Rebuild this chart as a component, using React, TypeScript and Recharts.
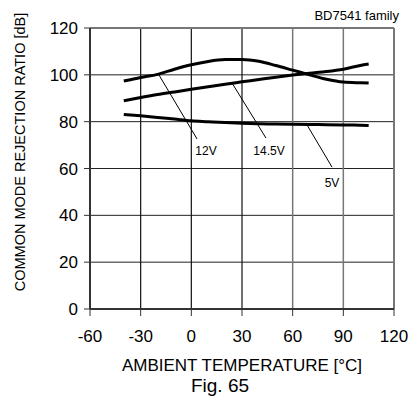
import { LineChart, Line, XAxis, YAxis, CartesianGrid, ReferenceLine, ReferenceDot } from "recharts";

// ambient temperature [°C]
const temps = [-40, -30, -20, -10, 0, 10, 20, 30, 40, 50, 60, 70, 80, 90, 100, 105];
// CMRR [dB] per supply voltage
const cmrr12V = [97.4, 98.9, 100.2, 102.4, 104.3, 105.7, 106.5, 106.6, 105.8, 104.0, 102.0, 100.0, 98.1, 96.9, 96.6, 96.5];
const cmrr14_5V = [88.9, 90.3, 91.6, 92.7, 93.8, 94.9, 96.0, 97.0, 98.0, 99.0, 99.9, 100.7, 101.4, 102.4, 104.0, 104.6];
const cmrr5V = [83.1, 82.5, 81.8, 81.1, 80.4, 80.0, 79.6, 79.3, 79.1, 79.0, 78.9, 78.8, 78.7, 78.6, 78.5, 78.4];

const xTicks = [-60, -30, 0, 30, 60, 90, 120];
const yTicks = [0, 20, 40, 60, 80, 100, 120];

// leader lines: curve point -> label, and label spots
const callouts = [
  { name: "12V", from: { x: -19.7, y: 100.6 }, to: { x: 3.4, y: 72.6 }, at: { x: 8.7, y: 67.5 } },
  { name: "14.5V", from: { x: 24.1, y: 96.5 }, to: { x: 44.2, y: 73 }, at: { x: 46, y: 67.5 } },
  { name: "5V", from: { x: 68.5, y: 78.6 }, to: { x: 83.3, y: 60.6 }, at: { x: 83.3, y: 53.8 } },
];

const data = temps.map((t, i) => ({ t, v12: cmrr12V[i], v145: cmrr14_5V[i], v5: cmrr5V[i] }));

const font = "'Liberation Sans', Arial, sans-serif";

export default function App() {
  return (
    <div style={{ position: "absolute", left: 0, top: 0, width: 409, height: 398, fontFamily: font, background: "#fff", overflow: "hidden" }}>
      <LineChart width={409} height={398} data={data} margin={{ top: 28, right: 15, bottom: 0, left: 0 }}>
        <CartesianGrid vertical={false} stroke="#222" />
        {[-30, 0, 30].map((x) => (
          <ReferenceLine key={x} x={x} stroke="#111" strokeWidth={1.2} />
        ))}
        {[60, 90].map((x) => (
          <ReferenceLine key={x} x={x} stroke="#777" strokeWidth={1.5} />
        ))}
        <ReferenceLine y={120} stroke="#777" strokeWidth={2} />
        <ReferenceLine x={120} stroke="#777" strokeWidth={2} />
        <XAxis
          type="number"
          dataKey="t"
          domain={[-60, 120]}
          ticks={xTicks}
          height={89}
          tickSize={7}
          tickMargin={14}
          axisLine={{ stroke: "#333", strokeWidth: 2 }}
          tickLine={{ stroke: "#333" }}
          tick={{ fill: "#000", fontSize: 17, fontFamily: font }}
        />
        <YAxis
          type="number"
          domain={[0, 120]}
          ticks={yTicks}
          width={90}
          tickSize={6}
          tickMargin={6}
          axisLine={{ stroke: "#333", strokeWidth: 2 }}
          tickLine={{ stroke: "#333" }}
          tick={{ fill: "#000", fontSize: 17, fontFamily: font }}
        />
        <Line type="monotone" dataKey="v12" stroke="#000" strokeWidth={3} dot={false} isAnimationActive={false} />
        <Line type="monotone" dataKey="v145" stroke="#000" strokeWidth={3} dot={false} isAnimationActive={false} />
        <Line type="monotone" dataKey="v5" stroke="#000" strokeWidth={3} dot={false} isAnimationActive={false} />
        {callouts.map((c) => (
          <ReferenceLine key={c.name + "-l"} segment={[c.from, c.to]} stroke="#000" strokeWidth={1} />
        ))}
        {callouts.map((c) => (
          <ReferenceDot
            key={c.name}
            x={c.at.x}
            y={c.at.y}
            r={0}
            fill="none"
            stroke="none"
            label={{ value: c.name, position: "center", fill: "#000", fontSize: 12, fontFamily: font }}
          />
        ))}
      </LineChart>
      <div style={{ position: "absolute", right: 10, top: 9, fontSize: 13, lineHeight: "13px" }}>BD7541 family</div>
      <div
        style={{
          position: "absolute",
          left: 20 - 150,
          top: 152 - 7,
          width: 300,
          height: 14,
          fontSize: 14.5,
          lineHeight: "14px",
          textAlign: "center",
          transform: "rotate(-90deg)",
          whiteSpace: "nowrap",
        }}
      >
        COMMON MODE REJECTION RATIO [dB]
      </div>
      <div style={{ position: "absolute", left: 242 - 150, top: 357, width: 300, textAlign: "center", fontSize: 17, lineHeight: "17px" }}>
        AMBIENT TEMPERATURE [°C]
      </div>
      <div style={{ position: "absolute", left: 220 - 60, top: 376, width: 120, textAlign: "center", fontSize: 19, lineHeight: "19px" }}>
        Fig. 65
      </div>
    </div>
  );
}
